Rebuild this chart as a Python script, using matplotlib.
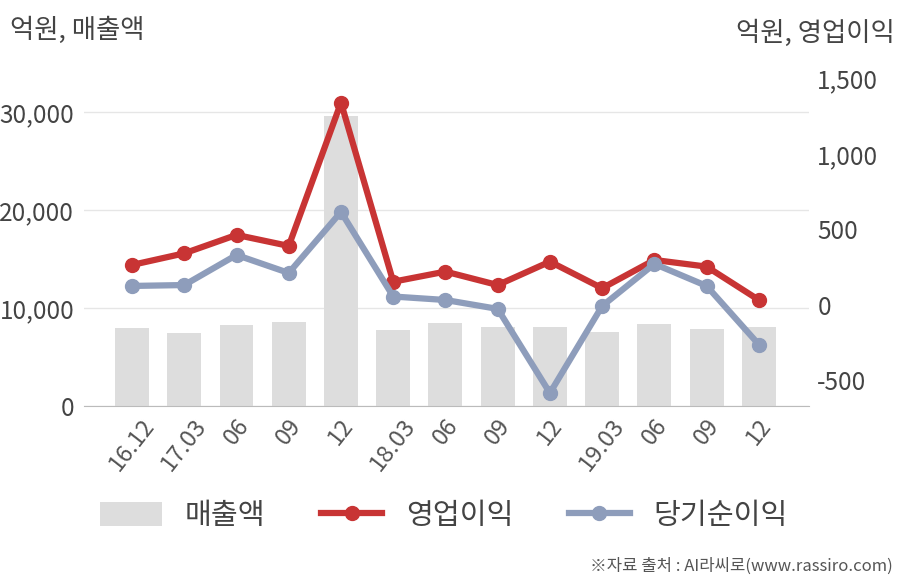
import matplotlib
matplotlib.use("Agg")
import matplotlib.pyplot as plt
from matplotlib.patches import Patch
from matplotlib.lines import Line2D

plt.rcParams['font.family'] = ['Noto Sans CJK KR', 'DejaVu Sans']

# quarters
labels = ['16.12', '17.03', '06', '09', '12', '18.03', '06', '09', '12',
          '19.03', '06', '09', '12']
# 매출액 (억원)
sales = [7930, 7420, 8230, 8570, 29600, 7760, 8440, 8060, 8060,
         7550, 8330, 7860, 8060]
# 영업이익 (억원)
op_income = [265, 342, 464, 391, 1340, 154, 221, 132, 287, 111, 298, 254, 33]
# 당기순이익 (억원)
net_income = [126, 132, 331, 212, 616, 56, 33, -26, -583, -7, 272, 126, -262]

bar_color = '#dddddd'
red = '#c83434'
blue = '#8e9dbb'
text_color = '#444444'

fig = plt.figure(figsize=(9.08, 5.80), dpi=100)
ax = fig.add_axes([84 / 908, 1 - 406 / 580, 725 / 908, 328 / 580])
ax2 = ax.twinx()

x = list(range(len(labels)))
ax.bar(x, sales, width=0.65, color=bar_color, zorder=2)
ax.set_xlim(-0.92, 12.96)
ax.set_ylim(0, 33470)
ax.set_yticks([0, 10000, 20000, 30000])
ax.set_yticklabels(['0', '10,000', '20,000', '30,000'])
ax.yaxis.grid(True, color='#e6e6e6', linewidth=1)
ax.set_axisbelow(True)
ax.set_xticks(x)
ax.set_xticklabels(labels, rotation=52, ha='center', va='top')

ax2.plot(x, op_income, color=red, linewidth=4.5, marker='o', markersize=10, zorder=3)
ax2.plot(x, net_income, color=blue, linewidth=4.5, marker='o', markersize=10, zorder=3)
ax2.set_ylim(-669, 1503)
ax2.set_yticks([-500, 0, 500, 1000, 1500])
ax2.set_yticklabels(['-500', '0', '500', '1,000', '1,500'])

for a in (ax, ax2):
    for s in ('top', 'left', 'right', 'bottom'):
        a.spines[s].set_visible(False)
    a.tick_params(length=0, labelsize=17.5, colors=text_color)
ax.spines['bottom'].set_visible(True)
ax.spines['bottom'].set_color('#bbbbbb')
ax.tick_params(axis='y', pad=7)
ax.tick_params(axis='x', pad=6, labelsize=17, labelcolor='#555555')
ax2.tick_params(axis='y', pad=6)

fig.text(10 / 908, 1 - 30 / 580, '억원, 매출액', fontsize=19, color=text_color,
         ha='left', va='center')
fig.text(895 / 908, 1 - 33 / 580, '억원, 영업이익', fontsize=19, color=text_color,
         ha='right', va='center')

handles = [
    Patch(facecolor=bar_color, edgecolor='none'),
    Line2D([], [], color=red, linewidth=4.5, marker='o', markersize=10),
    Line2D([], [], color=blue, linewidth=4.5, marker='o', markersize=10),
]
fig.legend(handles, ['매출액', '영업이익', '당기순이익'], loc='center',
           bbox_to_anchor=(444 / 908, 1 - 516 / 580), ncol=3, frameon=False,
           fontsize=21, handlelength=2.1, handleheight=0.85, handletextpad=0.8,
           columnspacing=1.9, labelcolor=text_color)

fig.text(893 / 908, 1 - 566 / 580, '※자료 출처 : AI라씨로(www.rassiro.com)',
         fontsize=12, color='#555555', ha='right', va='center')

fig.savefig('out.png', dpi=100)
